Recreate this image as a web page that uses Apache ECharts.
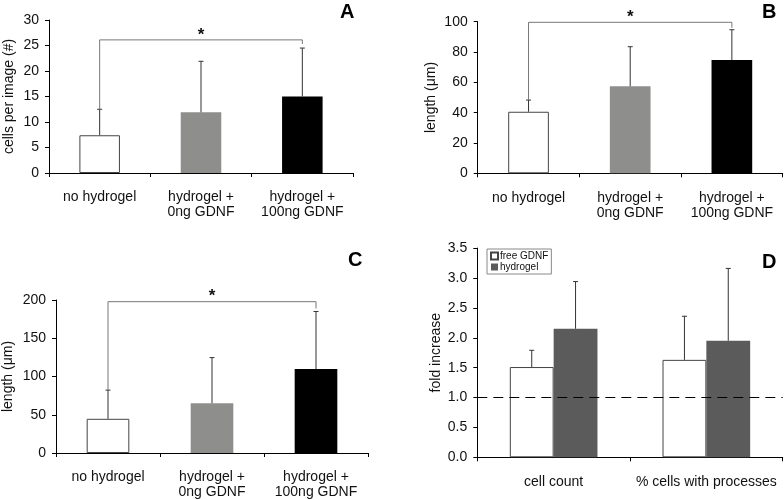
<!DOCTYPE html>
<html>
<head>
<meta charset="utf-8">
<script src="https://cdn.jsdelivr.net/npm/echarts@6/dist/echarts.min.js"></script>
<style>html,body{margin:0;padding:0;background:#fff}#c{width:784px;height:500px}</style>
</head>
<body>
<div id="c"></div>
<script>
// ---- data ----
var catsABC = ['no hydrogel', 'hydrogel +\n0ng GDNF', 'hydrogel +\n100ng GDNF'];
var aMean = [7.4, 11.9, 15.0];
var aSD = [5.1, 10.0, 9.5];
var bMean = [40.6, 57.4, 74.7];
var bSD = [7.7, 26.1, 20.0];
var cMean = [44.7, 65.1, 109.8];
var cSD = [37.5, 59.6, 75.2];
var catsD = ['cell count', '% cells with processes'];
var dFree = [1.51, 1.63];
var dFreeSD = [0.28, 0.73];
var dHydro = [2.15, 1.95];
var dHydroSD = [0.79, 1.21];
var dLegend = ['free GDNF', 'hydrogel'];
// significance brackets: [fromCat, toCat, level, rightEndValue]
var aBracket = [0, 2, 26.1, 25.3];
var bBracket = [0, 2, 99.6, 96.0];
var cBracket = [0, 2, 197.8, 189.0];
var dRefLine = 1.0;

var FONT = '"Liberation Sans", Arial, Helvetica, sans-serif';
var chart = echarts.init(document.getElementById('c'), null, {renderer: 'canvas'});

function grid(l, t, w, h) { return {left: l, top: t, width: w, height: h, containLabel: false}; }
function xAx(i, cats) {
  return {type: 'category', gridIndex: i, data: cats,
    axisLine: {lineStyle: {color: '#000', width: 1}},
    axisTick: {show: true, length: 4, lineStyle: {color: '#000'}},
    axisLabel: {interval: 0, color: '#111', fontSize: 14, fontFamily: FONT, margin: 17, lineHeight: 15},
    splitLine: {show: false}};
}
function yAx(i, max, itv, name, gap, dec) {
  return {type: 'value', gridIndex: i, min: 0, max: max, interval: itv,
    name: name, nameLocation: 'middle', nameGap: gap,
    nameTextStyle: {color: '#111', fontSize: 14, fontFamily: FONT},
    axisLine: {show: true, lineStyle: {color: '#000', width: 1}},
    axisTick: {show: true, length: 4, lineStyle: {color: '#000'}},
    axisLabel: {color: '#111', fontSize: 14, fontFamily: FONT, margin: 10,
      formatter: function (v) { return dec ? v.toFixed(1) : String(v); }},
    splitLine: {show: false}};
}
function barSeries(i, vals, colors, width, border) {
  return {type: 'bar', xAxisIndex: i, yAxisIndex: i, barWidth: width,
    data: vals.map(function (v, k) {
      return {value: v, itemStyle: {color: colors[k], borderColor: border[k], borderWidth: border[k] ? 1 : 0}};
    }), z: 2, silent: true};
}
function errSeries(i, means, sds, offsetFrac) {
  return {type: 'custom', xAxisIndex: i, yAxisIndex: i, silent: true, z: 3,
    data: means.map(function (m, k) { return [k, m, m + sds[k]]; }),
    renderItem: function (params, api) {
      var bw = api.size([1, 0])[0];
      var p0 = api.coord([api.value(0), api.value(1)]);
      var p1 = api.coord([api.value(0), api.value(2)]);
      var x = p0[0] + offsetFrac * bw;
      var st = {stroke: '#333', lineWidth: 1};
      return {type: 'group', children: [
        {type: 'line', shape: {x1: x, y1: p0[1], x2: x, y2: p1[1]}, style: st},
        {type: 'line', shape: {x1: x - 2.5, y1: p1[1], x2: x + 2.5, y2: p1[1]}, style: st}
      ]};
    }};
}
function bracketSeries(i, br, means, sds) {
  return {type: 'custom', xAxisIndex: i, yAxisIndex: i, silent: true, z: 4,
    data: [[br[0], br[1], br[2], means[br[0]] + sds[br[0]], br[3]]],
    renderItem: function (params, api) {
      var a = api.coord([api.value(0), api.value(3)]);
      var b = api.coord([api.value(0), api.value(2)]);
      var c = api.coord([api.value(1), api.value(2)]);
      var d = api.coord([api.value(1), api.value(4)]);
      var mid = (b[0] + c[0]) / 2;
      return {type: 'group', children: [
        {type: 'polyline', shape: {points: [a, b, c, d]}, style: {stroke: '#777', lineWidth: 1, fill: null}},
        {type: 'text', style: {text: '*', x: mid, y: b[1] - 5, align: 'center', verticalAlign: 'middle',
          fontSize: 17, fontWeight: 'bold', fontFamily: FONT, fill: '#111'}}
      ]};
    }};
}

var colorsABC = ['#ffffff', '#8e8e8c', '#000000'];
var bordersABC = ['#444', null, null];

var option = {
  backgroundColor: '#fff',
  animation: false,
  textStyle: {fontFamily: FONT},
  grid: [grid(49, 20, 304, 153), grid(477.7, 21.7, 305, 151.6), grid(51.7, 300, 316.3, 156.7), grid(477.3, 248.1, 305.4, 209.2)],
  xAxis: [xAx(0, catsABC), xAx(1, catsABC), xAx(2, catsABC), xAx(3, catsD)],
  yAxis: [yAx(0, 30, 5, 'cells per image (#)', 33), yAx(1, 100, 20, 'length (\u03bcm)', 40),
          yAx(2, 200, 50, 'length (\u03bcm)', 41), yAx(3, 3.5, 0.5, 'fold increase', 34, true)],
  legend: {data: dLegend, orient: 'vertical', left: 487, top: 249, padding: [2, 3], itemGap: 1,
    itemWidth: 7, itemHeight: 7, icon: 'rect', borderColor: '#888', borderWidth: 1, backgroundColor: '#fff',
    textStyle: {fontSize: 10, fontFamily: FONT, color: '#111', padding: [0, 0, 0, -3]}, selectedMode: false},
  series: [
    barSeries(0, aMean, colorsABC, '40%', bordersABC),
    errSeries(0, aMean, aSD, 0),
    bracketSeries(0, aBracket, aMean, aSD),
    barSeries(1, bMean, colorsABC, '40%', bordersABC),
    errSeries(1, bMean, bSD, 0),
    bracketSeries(1, bBracket, bMean, bSD),
    barSeries(2, cMean, colorsABC, '41%', bordersABC),
    errSeries(2, cMean, cSD, 0),
    bracketSeries(2, cBracket, cMean, cSD),
    {type: 'bar', name: dLegend[0], xAxisIndex: 3, yAxisIndex: 3, data: dFree, barWidth: '28.7%', barGap: '0%',
      itemStyle: {color: '#fff', borderColor: '#444', borderWidth: 1}, silent: true},
    {type: 'bar', name: dLegend[1], xAxisIndex: 3, yAxisIndex: 3, data: dHydro, barWidth: '28.7%', barGap: '0%',
      itemStyle: {color: '#5b5b5b'}, silent: true,
      markLine: {silent: true, symbol: 'none', label: {show: false}, data: [{yAxis: dRefLine}],
        lineStyle: {color: '#000', type: [10, 6], width: 1}}},
    errSeries(3, dFree, dFreeSD, -0.1435),
    errSeries(3, dHydro, dHydroSD, 0.1435)
  ],
  graphic: [
    {type: 'text', left: 340, top: 2, style: {text: 'A', fontSize: 20, fontWeight: 'bold', fontFamily: FONT, fill: '#000'}},
    {type: 'text', left: 762, top: 2, style: {text: 'B', fontSize: 20, fontWeight: 'bold', fontFamily: FONT, fill: '#000'}},
    {type: 'text', left: 348, top: 250, style: {text: 'C', fontSize: 20, fontWeight: 'bold', fontFamily: FONT, fill: '#000'}},
    {type: 'text', left: 762, top: 252, style: {text: 'D', fontSize: 20, fontWeight: 'bold', fontFamily: FONT, fill: '#000'}}
  ]
};
chart.setOption(option);
</script>
</body>
</html>
